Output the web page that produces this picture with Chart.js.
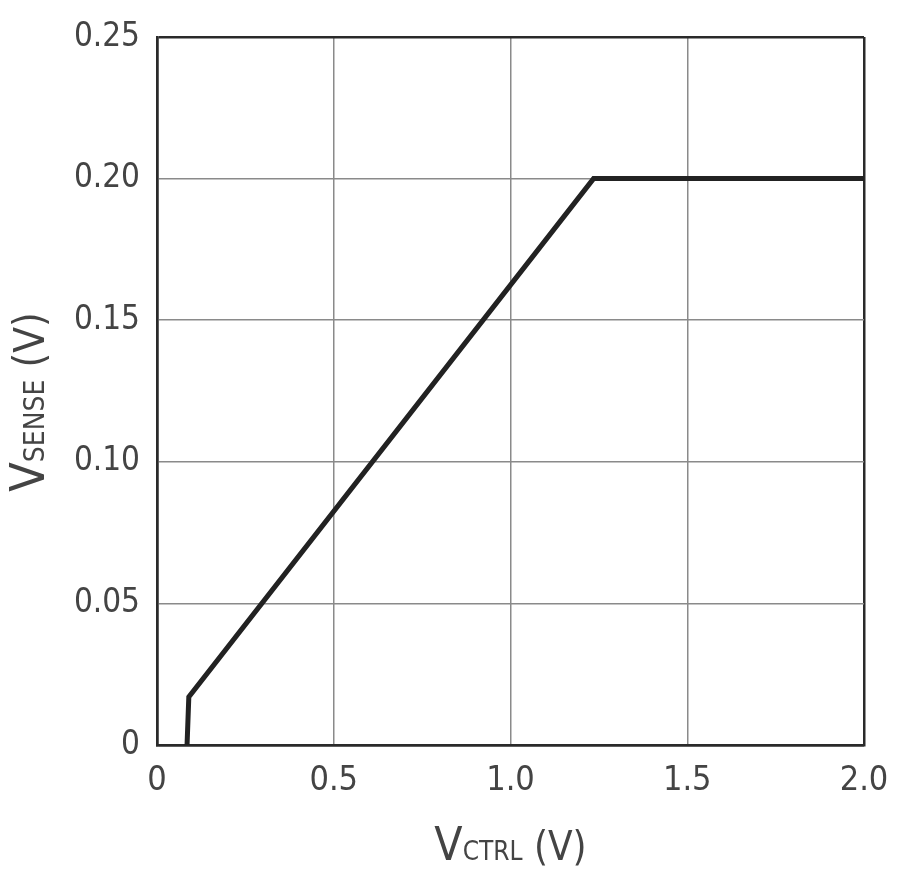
<!DOCTYPE html>
<html lang="en">
<head>
  <meta charset="UTF-8">
  <title>VSENSE vs VCTRL</title>
  <script src="https://cdn.jsdelivr.net/npm/chart.js"></script>
  <style>
    body {
      margin: 0;
      background: #fff;
    }
    .chart-box {
      width: 900px;
      height: 878px;
    }
  </style>
</head>
<body>
  <div class="chart-box">
    <canvas id="chart"></canvas>
  </div>

  <script>
    // V_CTRL (V) vs V_SENSE (V)
    const vctrl = [0.085, 0.09, 1.235, 2.0];
    const vsense = [0, 0.017, 0.2, 0.2];

    const xTicks = ['0', '0.5', '1.0', '1.5', '2.0'];
    const yTicks = ['0', '0.05', '0.10', '0.15', '0.20', '0.25'];

    const FONT = "'Liberation Sans Narrow', 'DejaVu Sans Condensed', Arial, sans-serif";
    const TEXT = '#444';

    // draws "V" + small-caps subscript + " (V)" for each axis
    function drawParts(ctx, parts) {
      let total = 0;
      parts.forEach(p => {
        ctx.font = p.size + 'px ' + FONT;
        p.w = ctx.measureText(p.text).width;
        total += p.w;
      });
      let x = -total / 2;
      parts.forEach(p => {
        ctx.font = p.size + 'px ' + FONT;
        ctx.fillText(p.text, x, 0);
        x += p.w;
      });
    }

    const axisTitles = {
      id: 'axisTitles',
      afterDraw(chart) {
        const ctx = chart.ctx;
        const area = chart.chartArea;
        ctx.save();
        ctx.fillStyle = TEXT;
        ctx.textBaseline = 'alphabetic';
        ctx.textAlign = 'left';

        ctx.save();
        ctx.translate((area.left + area.right) / 2, 860);
        drawParts(ctx, [
          { text: 'V', size: 46 },
          { text: 'CTRL', size: 26 },
          { text: ' (V)', size: 40 }
        ]);
        ctx.restore();

        ctx.save();
        ctx.translate(44, 402);
        ctx.rotate(-Math.PI / 2);
        drawParts(ctx, [
          { text: 'V', size: 48 },
          { text: 'SENSE', size: 28 },
          { text: ' (V)', size: 42 }
        ]);
        ctx.restore();

        ctx.restore();
      }
    };

    const points = vctrl.map((x, i) => ({ x: x, y: vsense[i] }));

    new Chart(document.getElementById('chart').getContext('2d'), {
      type: 'scatter',
      data: {
        datasets: [{
          data: points,
          showLine: true,
          borderColor: '#222',
          borderWidth: 5,
          pointRadius: 0,
          borderJoinStyle: 'miter',
          fill: false
        }]
      },
      options: {
        responsive: true,
        maintainAspectRatio: false,
        animation: false,
        layout: { padding: { top: 37, right: 36, left: 0, bottom: 0 } },
        plugins: {
          legend: { display: false },
          tooltip: { enabled: false }
        },
        scales: {
          x: {
            type: 'linear',
            min: 0,
            max: 2,
            afterBuildTicks: axis => {
              axis.ticks = xTicks.map(t => ({ value: parseFloat(t) }));
            },
            afterFit: axis => {
              axis.height = 133;
              axis.paddingRight = 0;
              axis.paddingLeft = 0;
            },
            ticks: {
              color: TEXT,
              padding: 16,
              font: { family: FONT, size: 34 },
              callback: (v, i) => xTicks[i]
            },
            grid: {
              drawTicks: false,
              color: ctx => (ctx.index === 0 || ctx.index === xTicks.length - 1) ? '#2a2a2a' : '#8a8a8a',
              lineWidth: ctx => (ctx.index === 0 || ctx.index === xTicks.length - 1) ? 2.5 : 1.5
            },
            border: { color: '#2a2a2a', width: 2.5 }
          },
          y: {
            type: 'linear',
            min: 0,
            max: 0.25,
            afterBuildTicks: axis => {
              axis.ticks = yTicks.map(t => ({ value: parseFloat(t) }));
            },
            afterFit: axis => {
              axis.width = 157;
              axis.paddingTop = 0;
              axis.paddingBottom = 0;
            },
            ticks: {
              color: TEXT,
              padding: 17,
              font: { family: FONT, size: 33 },
              callback: (v, i) => yTicks[i]
            },
            grid: {
              drawTicks: false,
              color: ctx => (ctx.index === 0 || ctx.index === yTicks.length - 1) ? '#2a2a2a' : '#8a8a8a',
              lineWidth: ctx => (ctx.index === 0 || ctx.index === yTicks.length - 1) ? 2.5 : 1.5
            },
            border: { color: '#2a2a2a', width: 2.5 }
          }
        }
      },
      plugins: [axisTitles]
    });
  </script>
</body>
</html>
